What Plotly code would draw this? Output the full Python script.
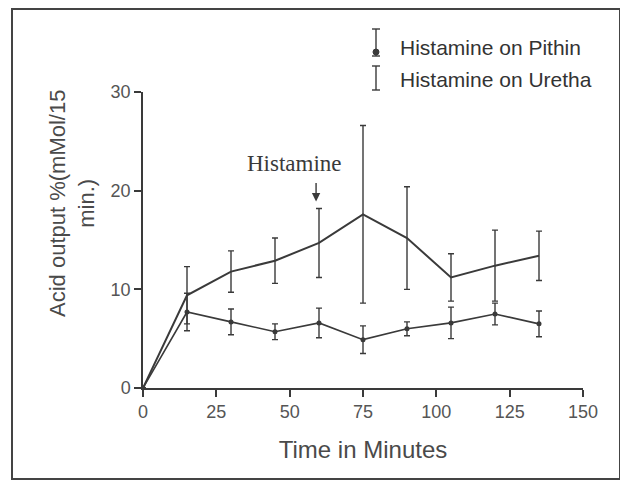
import plotly.graph_objects as go

time_min = [0, 15, 30, 45, 60, 75, 90, 105, 120, 135]
uretha = [0, 9.4, 11.8, 12.9, 14.7, 17.6, 15.2, 11.2, 12.4, 13.4]
uretha_err = [0, 2.9, 2.1, 2.3, 3.5, 9.0, 5.2, 2.4, 3.6, 2.5]
pithin = [0, 7.7, 6.7, 5.7, 6.6, 4.9, 6.0, 6.6, 7.5, 6.5]
pithin_err = [0, 1.9, 1.3, 0.8, 1.5, 1.4, 0.7, 1.6, 1.1, 1.3]
x_ticks = [0, 25, 50, 75, 100, 125, 150]
y_ticks = [0, 10, 20, 30]
legend_labels = ["Histamine on Pithin", "Histamine on Uretha"]

INK = "#3a3a3a"
GRAY = "#555555"

# page offset (body margin) and geometry, expressed in reference-screen pixels
OFF = 8
W, H = 620, 474
L, T = 143 - OFF, 92 - OFF
PW, PH = 440, 296
R, B = W - L - PW, H - T - PH


def px(x):
    return (x - OFF - L) / PW


def py(y):
    return (T + PH - (y - OFF)) / PH


fig = go.Figure()
fig.add_trace(go.Scatter(
    x=time_min, y=uretha, mode="lines",
    line=dict(color=INK, width=2),
    error_y=dict(type="data", array=uretha_err, color=INK, thickness=1.4, width=3),
    name=legend_labels[1], showlegend=False))
fig.add_trace(go.Scatter(
    x=time_min, y=pithin, mode="lines+markers",
    line=dict(color=INK, width=1.6),
    marker=dict(color=INK, size=5),
    error_y=dict(type="data", array=pithin_err, color=INK, thickness=1.4, width=3),
    name=legend_labels[0], showlegend=False))

fig.update_layout(
    width=W, height=H,
    margin=dict(l=L, r=R, t=T, b=B),
    paper_bgcolor="white", plot_bgcolor="white",
    font=dict(family="Liberation Sans, Arial", color=GRAY),
    showlegend=False,
)
fig.update_xaxes(
    range=[0, 150], tickvals=x_ticks, ticks="outside", ticklen=7, tickwidth=1.5,
    tickcolor=INK, showline=True, linecolor=INK, linewidth=1.5, showgrid=False,
    zeroline=False, tickfont=dict(size=18, color=GRAY),
    title=dict(text="Time in Minutes", font=dict(size=24, color="#4a4a4a"), standoff=20),
)
fig.update_yaxes(
    range=[0, 30], tickvals=y_ticks, ticks="outside", ticklen=7, tickwidth=1.5,
    tickcolor=INK, showline=True, linecolor=INK, linewidth=1.5, showgrid=False,
    zeroline=False, tickfont=dict(size=18, color=GRAY),
)

# y-axis title (two lines, offset upward like the original)
fig.add_annotation(
    xref="paper", yref="paper", x=px(72), y=py(204), xanchor="center", yanchor="middle",
    text="Acid output %(mMol/15<br>min.)", textangle=-90, showarrow=False,
    font=dict(size=22, color="#4a4a4a"), align="center")

# Histamine annotation with arrow
fig.add_annotation(
    xref="paper", yref="paper", x=px(294), y=py(163), xanchor="center", yanchor="middle",
    text="Histamine", showarrow=False,
    font=dict(family="Liberation Serif, Times New Roman", size=23, color=INK))
fig.add_annotation(
    x=59, y=18.9, xref="x", yref="y", text="", showarrow=True,
    arrowhead=2, arrowsize=1.2, arrowwidth=1.4, arrowcolor=INK, ax=0, ay=-20)

# custom legend
leg_x = 376
rows = [48, 79]
for lbl, yc in zip(legend_labels, rows):
    fig.add_annotation(xref="paper", yref="paper", x=px(398), y=py(yc),
                       xanchor="left", yanchor="middle", text=lbl, showarrow=False,
                       font=dict(size=21, color="#333333"))
icons = [(29, 56, True), (66, 90, False)]
for y0, y1, dot in icons:
    fig.add_shape(type="line", xref="paper", yref="paper",
                  x0=px(leg_x), x1=px(leg_x), y0=py(y0), y1=py(y1),
                  line=dict(color=INK, width=1.4))
    for yy in (y0, y1):
        fig.add_shape(type="line", xref="paper", yref="paper",
                      x0=px(leg_x - 4), x1=px(leg_x + 4), y0=py(yy), y1=py(yy),
                      line=dict(color=INK, width=1.4))
    if dot:
        fig.add_shape(type="circle", xref="paper", yref="paper",
                      x0=px(leg_x - 3), x1=px(leg_x + 3), y0=py(49), y1=py(55),
                      fillcolor=INK, line=dict(color=INK, width=1))

# outer frame
fig.add_shape(type="rect", xref="paper", yref="paper",
              x0=px(12), x1=px(620), y0=py(479), y1=py(9),
              line=dict(color="#444444", width=2))

fig.write_html("out.html")
